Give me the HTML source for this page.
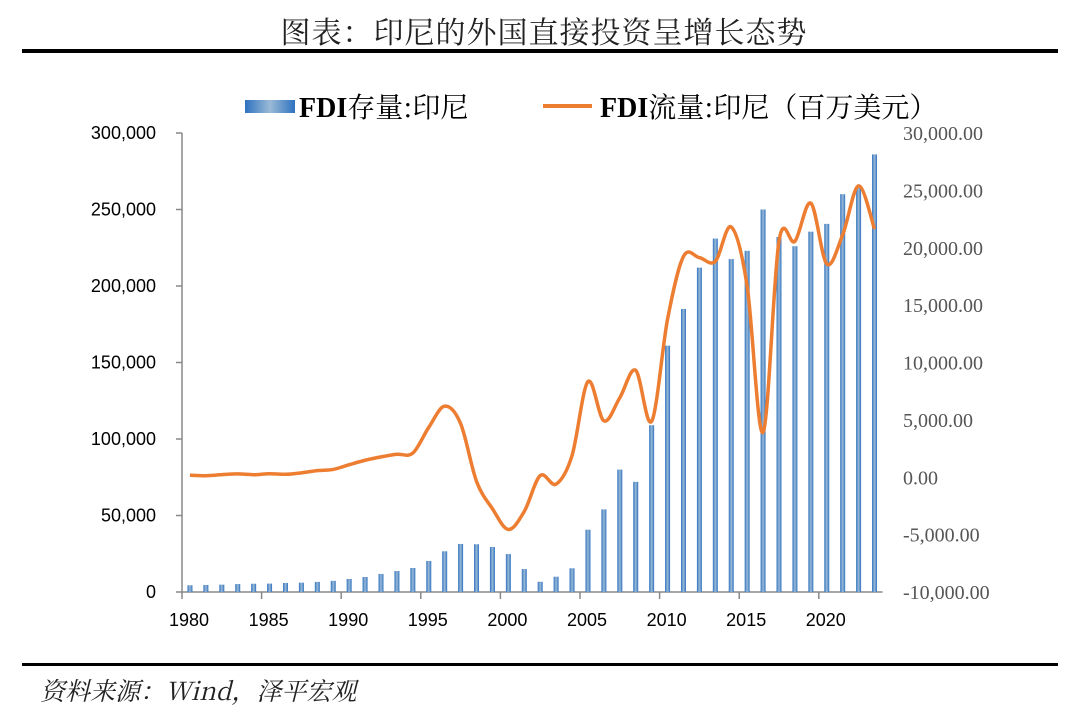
<!DOCTYPE html>
<html><head><meta charset="utf-8"><style>
body{margin:0;background:#fff;width:1080px;height:721px;overflow:hidden}
svg text{font-family:"Liberation Sans","Noto Sans CJK SC",sans-serif}
.serif{font-family:"Liberation Serif","Noto Serif CJK SC",serif}
</style></head><body>
<svg id="chart" width="1080" height="721">
<defs>
<linearGradient id="bg" x1="0" x2="1" y1="0" y2="0">
<stop offset="0" stop-color="#2e72c0"/><stop offset="0.5" stop-color="#9bbad6"/><stop offset="1" stop-color="#2e72c0"/>
</linearGradient>
</defs>
<text x="544" y="43" text-anchor="middle" font-size="30" fill="#222" style="font-family:'Noto Serif CJK SC',serif;letter-spacing:1px">图表：印尼的外国直接投资呈增长态势</text>
<rect x="22" y="49" width="1036" height="4" fill="#000"/>
<g>
<rect x="245" y="100" width="50" height="13" fill="url(#bg)"/>
<text x="299" y="117" font-size="28" class="serif" fill="#000"><tspan font-weight="bold" style="font-family:'Liberation Serif',serif">FDI</tspan><tspan style="font-family:'Noto Serif CJK SC',serif">存量:印尼</tspan></text>
<line x1="543" y1="106" x2="592" y2="106" stroke="#ed7d31" stroke-width="4"/>
<text x="600" y="117" font-size="28" class="serif" fill="#000"><tspan font-weight="bold" style="font-family:'Liberation Serif',serif">FDI</tspan><tspan style="font-family:'Noto Serif CJK SC',serif">流量:印尼（百万美元）</tspan></text>
</g>
<g id="axes"></g>
<g id="bars"></g>
<g id="line"></g>
<rect x="22" y="663" width="1036" height="3" fill="#000"/>
<text x="40" y="700" font-size="25" font-style="italic" fill="#222" style="font-family:'Noto Serif CJK SC','Liberation Serif',serif">资料来源：Wind，泽平宏观</text>
</svg>
<script>
const years=[];for(let y=1980;y<=2023;y++)years.push(y);
const stock=[4400,4600,4800,5200,5400,5500,5900,6100,6600,7300,8500,9800,11800,13700,15700,20300,26600,31400,31200,29400,24800,15000,6700,10000,15500,40700,54000,80000,72000,109000,161000,185000,212000,231000,217600,223000,250000,232000,226000,235500,240600,260000,265000,286000];
const flow=[180,133,225,292,222,310,258,385,576,682,1093,1482,1777,2004,2109,4346,6194,4677,-356,-2745,-4550,-2977,145,-597,1896,8336,4914,6928,9318,4877,13771,19241,19138,18817,21811,16641,3921,20579,20563,23883,18591,21131,25390,21628];
const leftTicks=[0,50000,100000,150000,200000,250000,300000];
const rightTicks=[-10000,-5000,0,5000,10000,15000,20000,25000,30000];
const X0=182,SLOT=15.92,Y0=592,YT=133;
const xC=i=>X0+(i+0.5)*SLOT;
const yL=v=>Y0-(v/300000)*(Y0-YT);
const yR=v=>Y0-((v+10000)/40000)*(Y0-YT);
const NS="http://www.w3.org/2000/svg";
function mk(t,a,p){const e=document.createElementNS(NS,t);for(const k in a)e.setAttribute(k,a[k]);p.appendChild(e);return e;}
const ax=document.getElementById('axes');
const l1=mk('line',{x1:X0,y1:YT,x2:X0,y2:Y0,stroke:'#888','stroke-width':1.5},ax);


const l2=mk('line',{x1:X0,y1:Y0,x2:X0+44*SLOT,y2:Y0,stroke:'#888','stroke-width':1.5},ax);


leftTicks.forEach(v=>{const y=yL(v);
mk('line',{x1:X0-6,y1:y,x2:X0,y2:y,stroke:'#888','stroke-width':1.5},ax);
const t=mk('text',{x:156,y:y+6,'text-anchor':'end','font-size':18,fill:'#000'},ax);t.textContent=v.toLocaleString('en-US');

});
rightTicks.forEach(v=>{const y=yR(v);
const t=mk('text',{x:903,y:y+7,'font-size':20,fill:'#555',class:'serif'},ax);
t.textContent=v.toLocaleString('en-US',{minimumFractionDigits:2,maximumFractionDigits:2});

});
years.forEach((yr,i)=>{if(yr%5===0){const x=X0+i*SLOT;
mk('line',{x1:x,y1:Y0,x2:x,y2:Y0+7,stroke:'#888','stroke-width':1.5},ax);
const t=mk('text',{x:x+7,y:Y0+34,'text-anchor':'middle','font-size':18,fill:'#000'},ax);t.textContent=yr;

}});
const bg=document.getElementById('bars');
stock.forEach((v,i)=>{const y=yL(v);
const r=mk('rect',{x:xC(i)-2.5,y:y,width:5,height:Y0-y,fill:'url(#bg)'},bg);

});
const pts=flow.map((v,i)=>[xC(i),yR(v)]);
let d='M'+pts[0][0]+','+pts[0][1];
for(let i=0;i<pts.length-1;i++){const p0=pts[i-1]||pts[i],p1=pts[i],p2=pts[i+1],p3=pts[i+2]||p2;const k=1/6;
d+=' C'+(p1[0]+(p2[0]-p0[0])*k)+','+(p1[1]+(p2[1]-p0[1])*k)+' '+(p2[0]-(p3[0]-p1[0])*k)+','+(p2[1]-(p3[1]-p1[1])*k)+' '+p2[0]+','+p2[1];}
const pl=mk('path',{d:d,fill:'none',stroke:'#ed7d31','stroke-width':3.5,'stroke-linejoin':'round'},document.getElementById('line'));


</script>
</body></html>
